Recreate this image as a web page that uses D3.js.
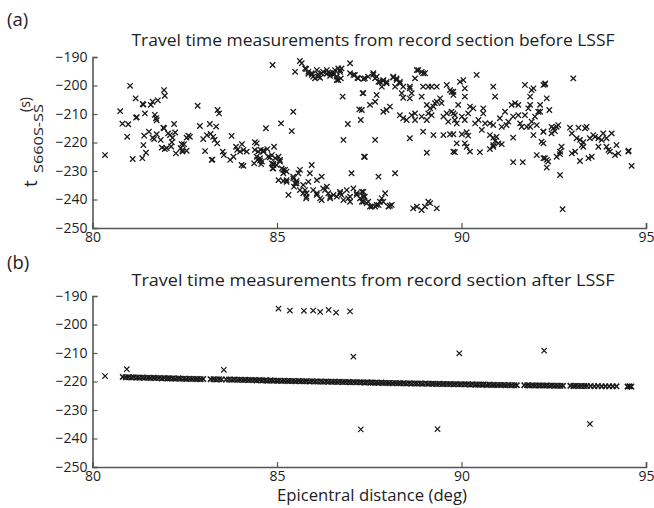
<!DOCTYPE html>
<html>
<head>
<meta charset="utf-8">
<script src="https://cdn.jsdelivr.net/npm/d3@7"></script>
<style>
  body { margin: 0; background: #fff; }
  text { font-family: "Open Sans", "Noto Sans", sans-serif; fill: #222; }
</style>
</head>
<body>
<svg id="chart" width="654" height="508"></svg>
<script>
// ---- data ----
var xTicks = [80, 85, 90, 95];
var yTicks = [-190, -200, -210, -220, -230, -240, -250];
var titleA = "Travel time measurements from record section before LSSF";
var titleB = "Travel time measurements from record section after LSSF";

// panel (a): [epicentral distance, travel time]
var beforeLSSF = [
  [81.02,-200.1],[80.34,-224.4],[80.75,-209],[80.81,-213.4],[80.97,-213.6],[80.94,-218],
  [81.17,-204.5],[81.36,-206.5],[81.38,-206.7],[81.58,-206.8],[81.63,-205.7],[81.77,-205.2],
  [81.94,-201.6],[81.96,-203.6],[81.18,-211.3],[81.2,-211.1],[81.42,-209.8],[81.69,-210.3],
  [81.72,-211.5],[81.74,-212.2],[81.53,-216.2],[81.4,-217.6],[81.63,-218.3],[81.67,-218.8],
  [81.74,-217.1],[81.38,-220.9],[81.45,-223.6],[81.35,-225.5],[81.09,-225.8],[81.85,-219.1],
  [81.92,-214.8],[81.94,-215.0],[82.05,-216.8],[82.1,-217.4],[82.21,-213.5],[82.24,-216.5],
  [82.17,-218.3],[82.15,-219.9],[81.88,-221.8],[81.96,-222.3],[82.01,-222],[82.13,-221.4],
  [82.26,-223.8],[82.39,-222],[82.44,-223.2],[82.42,-220.6],[82.85,-207.1],[83.39,-208.6],
  [83.43,-209.8],[82.91,-214.2],[83.18,-213.5],[83.35,-214.4],[82.55,-218.3],[82.6,-217.6],
  [82.64,-218],[82.48,-220.6],[82.44,-222.6],[82.55,-222.9],[83.0,-218.8],[83.1,-217.4],
  [83.2,-217],[83.27,-218],[83.31,-219.1],[83.38,-220.3],[83.05,-223],[83.23,-226.1],
  [83.25,-226.0],[83.53,-223.2],[83.56,-224.4],[83.73,-226.1],[83.82,-225],[83.77,-217.7],
  [83.89,-221.5],[83.92,-222.6],[84.0,-223.2],[84.05,-220.6],[84.09,-222.6],[84.18,-223.2],
  [84.04,-227.9],[84.09,-228.2],[84.4,-219.9],[84.45,-220.3],[84.4,-222.6],[84.49,-223.2],
  [84.56,-222.6],[84.63,-223.2],[84.74,-222.3],[84.38,-227.3],[84.47,-226.1],[84.54,-225.5],
  [84.59,-226.7],[84.57,-227.6],[84.7,-215],[84.76,-225],[84.86,-227.3],[84.88,-229.1],
  [84.9,-227.9],[84.88,-192.8],
  // upper branch 85.5-89
  [85.62,-191.4],[85.67,-192.2],[85.49,-195.2],[85.79,-194.2],[85.85,-195.2],[85.94,-195.7],
  [85.98,-196.9],[86.08,-194.6],[86.12,-196.1],[86.17,-197.3],[86.25,-195.2],[86.35,-194.6],
  [86.39,-195.4],[86.44,-196.6],[86.53,-195.7],[86.57,-194.6],[86.66,-194],[86.71,-195.2],
  [86.62,-196.9],[86.66,-198.1],[86.73,-197.5],[86.98,-192.2],[86.98,-195.7],[87.07,-196.3],
  [87.18,-197.3],
  [85.76,-194],[85.85,-195.9],[85.94,-196.3],[86.03,-197.5],[86.12,-196.9],[86.21,-195.7],
  [86.35,-195.9],[86.44,-195.7],[86.53,-196.3],[86.62,-198.1],[86.71,-194.6],[86.75,-194],
  [87.11,-196.3],[87.2,-197.5],[87.38,-197.5],[87.61,-196.2],[87.7,-196.9],[87.79,-198.7],
  [87.88,-198.4],[87.97,-199.2],[88.15,-197.2],[88.24,-197.5],[88.33,-199.2],[88.42,-200.4],
  [88.6,-201],[88.79,-194.6],[88.96,-195.7],
  [85.44,-209.2],[85.11,-213.3],[85.4,-216],[84.92,-221.5],[86.78,-203.9],[87.32,-202.7],
  [87.23,-208.4],[87.27,-212.1],[86.92,-213.5],[86.8,-219.1],[87.36,-225],
  // lower branch 84.4-88.1
  [84.86,-224.4],[84.95,-225.5],[85.04,-225],[85.08,-226.7],[84.99,-227.9],[85.13,-229.1],
  [85.22,-229.6],[85.17,-230.8],[85.26,-230.2],[84.9,-229.1],[85.04,-233.2],[85.17,-233.5],
  [85.26,-233.8],[85.44,-232.6],[85.49,-234.3],[85.53,-233.5],[85.62,-229.6],[85.58,-230.8],
  [85.46,-235.5],[85.71,-234.9],[85.76,-236.7],[85.8,-237.8],[85.85,-233.8],[85.94,-227.9],
  [85.89,-230.8],[86.08,-233.2],[86.21,-232],[86.08,-238.4],[86.21,-240.2],[86.3,-236.7],
  [86.35,-235.5],[86.39,-237.8],[86.44,-239.6],[86.62,-239],[86.71,-237.3],[86.75,-238.4],
  [86.89,-236.7],[86.93,-239.6],[86.98,-240.8],[87.07,-236.1],[87.02,-230.8],[87.16,-238.4],
  [87.25,-239.6],[87.3,-240.8],[87.34,-237.3],[85.31,-238.4],[85.79,-239.6],
  [84.45,-225],[84.54,-226.3],[84.63,-222.8],[84.81,-225.2],[84.9,-227.5],[85.08,-226.1],
  [85.17,-229.6],[85.26,-233.2],[85.44,-232],[85.53,-234.3],[85.62,-236.7],[85.71,-237.8],
  [85.8,-239],[85.98,-236.7],[86.08,-237.8],[86.17,-239.6],[86.25,-236.1],[86.44,-239],
  [86.53,-238.4],[86.71,-237.8],[86.8,-240.2],[86.98,-239],[87.16,-237.8],[87.34,-239],
  [87.43,-241.3],[87.52,-242.5],[87.7,-241.9],[87.88,-240.8],[88.06,-242.2],
  // 87.3-89.8
  [87.34,-197.7],[87.47,-196.9],[87.61,-195.7],[87.66,-197.5],[87.75,-198.7],[87.84,-200.4],
  [87.88,-198.1],[87.97,-198.7],[88.15,-196.9],[88.2,-200.4],[88.24,-198.1],[88.33,-198.7],
  [88.6,-200.4],[88.74,-197.5],[88.83,-194.6],[88.92,-195.2],[89.01,-195.7],[88.96,-200.4],
  [89.1,-200.4],[89.19,-200.4],[89.33,-200.4],[89.6,-199.8],[89.69,-201.6],[89.78,-202.2],
  [87.34,-202.7],[87.3,-208.6],[87.52,-206.8],[87.66,-205.7],[87.7,-203.3],[87.88,-209.2],
  [87.97,-208.6],[88.06,-207.4],[88.33,-210.4],[88.42,-211.5],[88.51,-212.1],[88.65,-210.4],
  [88.74,-209.8],[88.74,-212.1],[88.92,-210.9],[89.06,-212.1],[89.1,-209.8],[89.19,-210.4],
  [89.28,-206.2],[89.33,-205.7],[89.46,-206.2],[89.42,-204.5],[89.51,-210.9],[89.6,-209.8],
  [89.64,-212.7],[89.78,-209.8],[88.6,-204.5],[88.65,-202.7],[88.38,-202.7],[88.42,-204.3],
  [88.92,-203.9],[89.06,-206.8],[89.15,-208],[89.24,-207.4],
  [87.66,-219.1],[87.38,-225],[88.6,-218.5],[88.96,-216.2],[89.24,-217.4],[89.51,-217.4],
  [89.69,-217.1],[89.06,-223.6],[89.78,-223.2],[87.75,-232],[88.2,-230.8],
  [87.3,-237.3],[87.38,-239],[87.34,-240.8],[87.47,-240.8],[87.57,-242.5],[87.66,-242.5],
  [87.75,-241.9],[87.84,-239.6],[87.93,-237.8],[87.79,-240.8],[88.02,-242.5],[88.11,-241.9],
  [88.69,-243.1],[88.79,-242.5],[88.92,-243.7],[89.01,-242.5],[89.1,-240.8],[89.15,-241.3],
  [89.33,-243.1],
  // 89.7-92.3
  [90.41,-196.3],[89.96,-198.7],[90.05,-198.1],[90.09,-201],[89.73,-202.2],[89.78,-203.3],
  [90.09,-203.9],[90.86,-200.4],[90.91,-203.9],[91.72,-199.8],[91.9,-201.6],[91.95,-201],
  [91.86,-203.9],[92.22,-199.8],
  [89.73,-209.2],[89.82,-210.4],[89.91,-206.8],[89.82,-212.1],[89.87,-213.3],[90.01,-210.9],
  [90.09,-212.1],[90.23,-207.4],[90.32,-208],[90.18,-209.8],[90.37,-213.3],[90.46,-212.1],
  [90.59,-208],[90.59,-209.8],[90.64,-213.3],[90.55,-215.6],[90.77,-213.3],[90.86,-213.9],
  [91.04,-211.5],[91.09,-214.5],[91.18,-209.2],[91.22,-213.9],[91.27,-212.7],[91.36,-206.8],
  [91.45,-206.2],[91.54,-206.8],[91.4,-210.9],[91.54,-210.4],[91.59,-213.3],[91.63,-214.5],
  [91.72,-210.4],[91.77,-214.5],[91.81,-208],[91.86,-206.8],[91.9,-212.7],[91.99,-210.9],
  [92.04,-213.9],[92.08,-209.2],[92.13,-206.8],[92.22,-216.2],[92.17,-219.7],[91.86,-214.5],
  [91.95,-217.4],
  [89.78,-217.1],[90.01,-217.1],[90.14,-216.4],[90.18,-217.6],[89.87,-220.3],[90.09,-220.3],
  [90.14,-221.5],[89.82,-223.4],[90.23,-223.2],[90.5,-223.4],[90.77,-217.4],[90.86,-218.3],
  [90.95,-218],[90.91,-219.5],[90.86,-220.9],[91.0,-220.3],[91.09,-220.6],[90.77,-222.3],
  [90.86,-221.5],[91.4,-218.3],[91.4,-226.9],[91.66,-226.9],[92.04,-224.4],[92.22,-225.5],
  // 92.2-94.6
  [93.03,-197.5],[92.26,-199.6],[92.27,-199.3],[92.31,-204.5],[92.38,-208.6],[92.13,-209.2],
  [92.22,-216.2],[92.44,-214.5],[92.49,-215],[92.58,-214.5],[92.62,-213.9],[92.44,-216.8],
  [92.53,-216],[92.22,-220.3],[92.31,-226.1],[92.26,-225.5],[92.35,-226.7],[92.31,-228.8],
  [92.58,-225],[92.67,-223.2],[92.71,-221.5],[92.67,-224.1],[92.67,-231.4],[92.74,-243.4],
  [92.94,-214.8],[92.99,-216.8],[93.17,-214.8],[93.35,-215],[93.39,-214.5],[93.12,-218.5],
  [93.21,-219.1],[93.3,-219.9],[93.26,-220.9],[93.3,-221.5],[93.48,-218.5],[93.57,-217.4],
  [93.62,-218],[93.71,-218.5],[93.8,-219.1],[93.84,-216.8],[93.93,-218.5],[94.07,-216.8],
  [93.08,-223.2],[92.99,-223.8],[93.21,-226.5],[93.44,-225.5],[93.53,-225],[93.71,-221.5],
  [93.93,-221.5],[93.98,-222.6],[94.02,-223.2],[94.16,-224.4],[94.2,-220.9],[94.25,-223.8],
  [94.52,-223.2],[94.53,-222.9],[94.61,-228.2]
];

// panel (b): the dense aligned band
var afterLSSF = [
  [80.82,-218.4],[80.9,-218.5],[80.97,-218.5],[81.05,-218.6],[81.12,-218.5],[81.2,-218.6],
  [81.27,-218.7],[81.35,-218.6],[81.42,-218.7],[81.5,-218.7],[81.57,-218.8],[81.65,-218.7],
  [81.72,-218.8],[81.8,-218.8],[81.88,-218.9],[81.95,-218.8],[82.03,-218.9],[82.1,-218.9],
  [82.18,-218.9],[82.25,-219.0],[82.33,-218.9],[82.4,-219.0],[82.48,-219.0],[82.55,-219.1],
  [82.63,-219.0],[82.7,-219.1],[82.78,-219.1],[82.85,-219.1],[82.93,-219.2],[83.0,-219.1],
  [83.2,-219.2],[83.28,-219.2],[83.35,-219.3],[83.43,-219.2],[83.5,-219.3],[83.62,-219.3],
  [83.7,-219.3],[83.78,-219.4],[83.85,-219.3],[83.93,-219.4],[84.0,-219.4],[84.08,-219.5],
  [84.15,-219.4],[84.23,-219.5],[84.3,-219.5],[84.38,-219.5],[84.45,-219.6],[84.53,-219.5],
  [84.6,-219.6],[84.68,-219.6],[84.75,-219.7],[84.83,-219.6],[84.9,-219.7],[84.98,-219.7],
  [85.05,-219.7],[85.13,-219.8],[85.2,-219.7],[85.28,-219.8],[85.35,-219.8],[85.43,-219.8],
  [85.5,-219.9],[85.58,-219.8],[85.65,-219.9],[85.73,-219.9],[85.8,-219.9],[85.88,-220.0],
  [85.95,-219.9],[86.03,-220.0],[86.1,-220.0],[86.18,-220.0],[86.25,-220.1],[86.33,-220.0],
  [86.4,-220.1],[86.48,-220.1],[86.55,-220.1],[86.63,-220.2],[86.7,-220.1],[86.78,-220.2],
  [86.85,-220.2],[86.93,-220.2],[87.0,-220.3],[87.08,-220.2],[87.15,-220.3],[87.23,-220.3],
  [87.3,-220.3],[87.38,-220.4],[87.45,-220.3],[87.53,-220.4],[87.6,-220.4],[87.68,-220.4],
  [87.75,-220.5],[87.83,-220.4],[87.9,-220.5],[87.98,-220.5],[88.05,-220.5],[88.13,-220.6],
  [88.2,-220.5],[88.28,-220.6],[88.35,-220.6],[88.43,-220.6],[88.5,-220.7],[88.58,-220.6],
  [88.65,-220.7],[88.73,-220.7],[88.8,-220.7],[88.88,-220.7],[88.95,-220.8],[89.03,-220.7],
  [89.1,-220.8],[89.18,-220.8],[89.25,-220.8],[89.33,-220.9],[89.4,-220.8],[89.48,-220.9],
  [89.55,-220.9],[89.63,-220.9],[89.7,-220.9],[89.78,-221.0],[89.85,-220.9],[89.93,-221.0],
  [90.0,-221.0],[90.08,-221.0],[90.15,-221.0],[90.23,-221.1],[90.3,-221.0],[90.38,-221.1],
  [90.45,-221.1],[90.53,-221.1],[90.6,-221.1],[90.68,-221.2],[90.75,-221.1],[90.83,-221.2],
  [90.9,-221.2],[90.98,-221.2],[91.05,-221.2],[91.13,-221.2],[91.2,-221.3],[91.28,-221.2],
  [91.35,-221.3],[91.43,-221.3],[91.5,-221.3],[91.7,-221.3],[91.78,-221.3],[91.85,-221.4],
  [91.93,-221.3],[92.0,-221.4],[92.08,-221.4],[92.15,-221.4],[92.23,-221.4],[92.3,-221.4],
  [92.38,-221.5],[92.45,-221.4],[92.53,-221.5],[92.6,-221.5],[92.68,-221.5],[92.75,-221.5],
  [92.95,-221.5],[93.03,-221.6],[93.1,-221.5],[93.18,-221.6],[93.25,-221.6],[93.33,-221.6],
  [93.4,-221.6],[93.5,-221.6],[93.6,-221.7],[93.7,-221.6],[93.8,-221.7],[93.9,-221.7],
  [94.0,-221.7],[94.1,-221.7],[94.2,-221.7],[94.5,-221.8],[94.55,-221.7],[94.6,-221.8]
];

// panel (b): points that did not align
var afterOutliers = [
  [80.34,-218.1],[80.93,-215.7],[83.56,-215.9],
  [85.04,-194.4],[85.35,-195.1],[85.73,-195.2],[85.98,-195.1],[86.17,-195.6],[86.4,-194.9],
  [86.6,-195.8],[86.98,-195.4],
  [87.07,-211.3],[87.27,-236.8],[89.35,-236.7],[89.94,-210.1],[92.24,-209.2],[93.48,-234.9]
];

// ---- drawing ----
var svg = d3.select("#chart");
var x = d3.scaleLinear().domain([80, 95]).range([92.5, 646]);

function drawMarks(g, pts, y, sw) {
  g.selectAll(null).data(pts).enter().append("path")
    .attr("d", "M-2.7,-2.7L2.7,2.7M-2.7,2.7L2.7,-2.7")
    .attr("transform", function(d) { return "translate(" + x(d[0]) + "," + y(d[1]) + ")"; })
    .attr("stroke", "#1a1a1a").attr("stroke-width", sw).attr("fill", "none");
}

function panel(yTop, yBottom, title, titleY, label, labelY) {
  var y = d3.scaleLinear().domain([-250, -190]).range([yBottom, yTop]);
  var g = svg.append("g");

  var xAxis = d3.axisBottom(x).tickValues(xTicks).tickSize(-5).tickPadding(4)
    .tickFormat(d3.format("d"));
  var yAxis = d3.axisLeft(y).tickValues(yTicks).tickSize(-5).tickPadding(5)
    .tickFormat(function(d) { return "\u2212" + Math.abs(d); });

  var gx = g.append("g").attr("transform", "translate(0," + yBottom + ")").call(xAxis);
  var gy = g.append("g").attr("transform", "translate(" + x(80) + ",0)").call(yAxis);
  [gx, gy].forEach(function(a) {
    a.select(".domain").attr("stroke", "#555").attr("stroke-width", 1.6);
    a.selectAll(".tick line").attr("stroke", "#555").attr("stroke-width", 1.2);
    a.selectAll(".tick text").attr("font-size", 14).attr("fill", "#222")
      .attr("font-family", "'Open Sans', sans-serif");
  });

  g.append("text").attr("x", 373).attr("y", titleY).attr("text-anchor", "middle")
    .attr("font-size", 15.5).attr("textLength", 483).attr("lengthAdjust", "spacingAndGlyphs")
    .attr("fill", "#222").text(title);

  svg.append("text").attr("x", 7).attr("y", labelY).attr("font-size", 18.5).text(label);
  return {g: g, y: y};
}

var pa = panel(57, 228, titleA, 46, "(a)", 26);
drawMarks(pa.g, beforeLSSF, pa.y, 1.3);

var pb = panel(296, 467, titleB, 286, "(b)", 269);
drawMarks(pb.g, afterLSSF, pb.y, 1.6);
drawMarks(pb.g, afterOutliers, pb.y, 1.2);

// y axis label of panel (a): t with subscript S660S-SS and (s)
svg.append("text").attr("transform", "translate(37,187) rotate(-90)")
  .attr("font-size", 19).text("t");
svg.append("text").attr("transform", "translate(43,173) rotate(-90)")
  .attr("font-size", 13).attr("textLength", 69).attr("lengthAdjust", "spacingAndGlyphs")
  .text("S660S-SS");
svg.append("text").attr("transform", "translate(30,112) rotate(-90)")
  .attr("font-size", 14).text("(s)");

svg.append("text").attr("x", 372).attr("y", 501).attr("text-anchor", "middle")
  .attr("font-size", 15.5).attr("textLength", 190).attr("lengthAdjust", "spacingAndGlyphs")
  .text("Epicentral distance (deg)");
</script>
</body>
</html>
